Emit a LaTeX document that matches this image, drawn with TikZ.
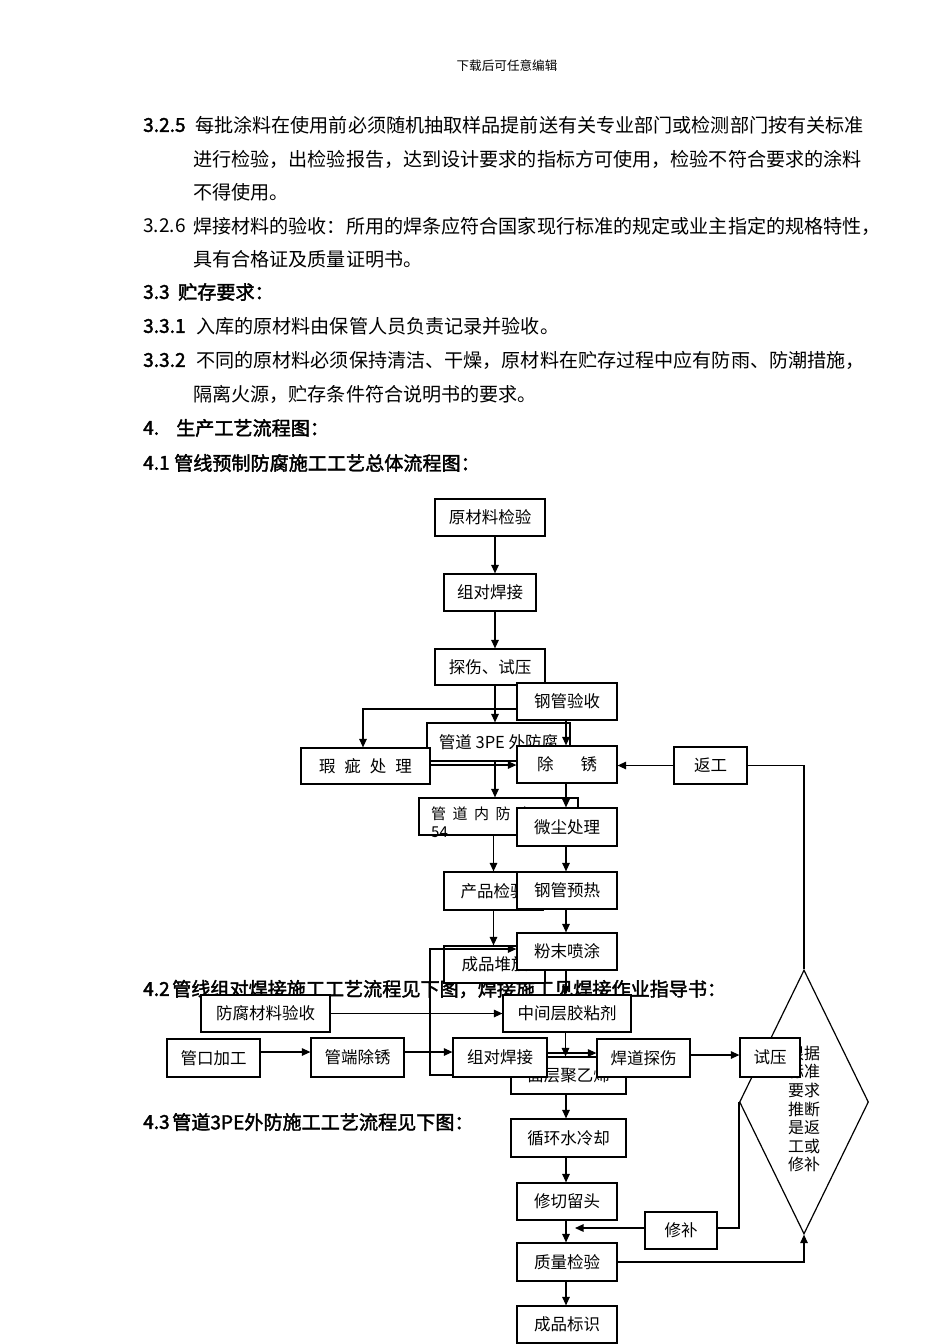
\documentclass[tikz,border=0pt]{standalone}
\usepackage{fontspec}
\setmainfont{Noto Sans CJK SC}
\newfontfamily\bfnt[FakeBold=2]{Noto Sans CJK SC}
\usetikzlibrary{arrows.meta,shapes.geometric}
\tikzset{
 box/.style={draw, line width=1.2pt, fill=white, inner sep=0pt, font=\fontsize{16.5}{19}\selectfont},
 arr/.style={line width=1.2pt, -{Triangle[length=8.5pt,width=7.5pt]}},
 ln/.style={line width=1.2pt},
 body/.style={anchor=west, inner sep=0pt, font=\fontsize{19.1}{22}\selectfont},
 head/.style={anchor=west, inner sep=0pt, font=\bfnt\fontsize{19.1}{22}\selectfont},
}
\begin{document}
\begin{tikzpicture}[x=1pt,y=-1pt]
\fill[white] (0,0) rectangle (950,1344);
\useasboundingbox (0,0) rectangle (950,1344);

% ---- page text ----
\node[inner sep=0pt, font=\fontsize{12.6}{14}\selectfont] (hdr) at (507,66) {下载后可任意编辑};
\node[head] (t1n) at (143,125) {3.2.5};
\node[body] (t1) at (195,125) {每批涂料在使用前必须随机抽取样品提前送有关专业部门或检测部门按有关标准};
\node[body] (t2) at (193,159) {进行检验，出检验报告，达到设计要求的指标方可使用，检验不符合要求的涂料};
\node[body] (t3) at (193,192) {不得使用。};
\node[body] (t4n) at (143,226) {3.2.6};
\node[body] (t4) at (193,226) {焊接材料的验收：所用的焊条应符合国家现行标准的规定或业主指定的规格特性，};
\node[body] (t5) at (193,259) {具有合格证及质量证明书。};
\node[head] (t6n) at (143,292) {3.3};
\node[head] (t6) at (178,292) {贮存要求：};
\node[head] (t7n) at (143,326) {3.3.1};
\node[body] (t7) at (196,326) {入库的原材料由保管人员负责记录并验收。};
\node[head] (t8n) at (143,360) {3.3.2};
\node[body] (t8) at (196,360) {不同的原材料必须保持清洁、干燥，原材料在贮存过程中应有防雨、防潮措施，};
\node[body] (t9) at (193,394) {隔离火源，贮存条件符合说明书的要求。};
\node[head] (t10n) at (143,428) {4.};
\node[head] (t10) at (176,428) {生产工艺流程图：};
\node[head] (t11n) at (143,463) {4.1};
\node[head] (t11) at (174,463) {管线预制防腐施工工艺总体流程图：};
\node[head] (t12n) at (143,989) {4.2};
\node[head] (t12) at (172,989) {管线组对焊接施工工艺流程见下图，焊接施工见焊接作业指导书：};
\node[head] (t13n) at (143,1122) {4.3};
\node[head] (t13) at (172,1122) {管道3PE外防施工工艺流程见下图：};

% ---- boxes ----
\node[box, minimum width=110pt, minimum height=37pt] (ycl) at (490,517.5) {原材料检验};
\node[box, minimum width=92pt, minimum height=37pt] (zd1) at (490,592.5) {组对焊接};
\node[box, minimum width=110pt, minimum height=36pt] (ts) at (490,667) {探伤、试压};
\node[box, minimum width=100pt, minimum height=37pt] (gy) at (567,701.5) {钢管验收};
\node[box, minimum width=143pt, minimum height=38pt] (pe) at (498.5,742) {管道 3PE 外防腐};
\node[box, minimum width=129pt, minimum height=36pt] (xc) at (365.5,766) {瑕\hspace{9pt}疵\hspace{9pt}处\hspace{9pt}理};
\node[box, minimum width=100pt, minimum height=37pt] (cx) at (567,764.5) {除\hspace{27pt}锈};
\node[box, minimum width=159pt, minimum height=37pt] (nf) at (498.5,816.5) {};
\node[anchor=north west, align=left, inner sep=0pt, font=\fontsize{15}{18}\selectfont] (nft) at (431,807) {管\hspace{6.5pt}道\hspace{6.5pt}内\hspace{6.5pt}防\hspace{6.5pt}腐\\54};
\node[box, minimum width=100pt, minimum height=38pt] (wc) at (567,827) {微尘处理};
\node[box, minimum width=99pt, minimum height=38pt] (cj) at (493.5,891) {产品检验};
\node[box, minimum width=100pt, minimum height=37pt] (yr) at (567,890.5) {钢管预热};
\node[box, minimum width=101pt, minimum height=37pt] (dp) at (494.5,964.5) {成品堆放};
\node[box, minimum width=100pt, minimum height=37pt] (fm) at (567,951.5) {粉末喷涂};
\node[box, minimum width=129pt, minimum height=37pt] (fcl) at (265.5,1013.5) {防腐材料验收};
\node[box, minimum width=128pt, minimum height=37pt] (zj) at (567,1013.5) {中间层胶粘剂};
\node[box, minimum width=93pt, minimum height=38pt] (gk) at (213.5,1058) {管口加工};
\node[box, minimum width=93pt, minimum height=39pt] (gd) at (357.5,1057.5) {管端除锈};
\node[box, minimum width=115pt, minimum height=37pt] (mc) at (568.5,1075.5) {面层聚乙烯};
\node[box, minimum width=94pt, minimum height=39pt] (zd2) at (500,1057.5) {组对焊接};
\node[box, minimum width=93pt, minimum height=38pt] (hd) at (643.5,1058) {焊道探伤};
\node[diamond, draw, line width=1.2pt, fill=white, inner sep=0pt, minimum width=129pt, minimum height=264pt] (dia) at (804,1102) {};
\node[align=center, inner sep=0pt, font=\fontsize{16}{18.6}\selectfont] (diat) at (804,1109) {根据\\标准\\要求\\推断\\是返\\工或\\修补};
\node[box, minimum width=60pt, minimum height=39pt] (sy) at (770,1057.5) {试压};
\node[box, minimum width=73pt, minimum height=37pt] (fg) at (710.5,765.5) {返工};
\node[box, minimum width=115pt, minimum height=38pt] (xl) at (568.5,1138) {循环水冷却};
\node[box, minimum width=100pt, minimum height=37pt] (xq) at (567,1201.5) {修切留头};
\node[box, minimum width=100pt, minimum height=38pt] (zl) at (567,1262) {质量检验};
\node[box, minimum width=100pt, minimum height=37pt] (bs) at (567,1324.5) {成品标识};
\node[box, minimum width=72pt, minimum height=37pt] (xb) at (681,1230.5) {修补};

% ---- connectors ----
\coordinate (lp) at (430,1075);
\coordinate (xbend) at (575,1228);
\draw[arr] ([xshift=5pt]ycl.south) -- ([xshift=5pt]zd1.north);
\draw[arr] ([xshift=5pt]zd1.south) -- ([xshift=5pt]ts.north);
\draw[arr] ([xshift=5pt]ts.south) -- ([xshift=-3.5pt]pe.north);
\draw[arr] ([yshift=-7.5pt]gy.west) -| ([xshift=-2.5pt]xc.north);
\draw[arr] ([xshift=-1pt]gy.south) -- ([xshift=-1pt]cx.north);
\draw[arr] ([yshift=1pt]xc.east) -- ([yshift=1pt]xc.east -| cx.west);
\draw[arr] (fg.west) -- (fg.west -| cx.east);
\draw[ln] (fg.east) -| (dia.north);
\draw[arr] ([xshift=-3.5pt]pe.south) -- ([xshift=-3.5pt]nf.north);
\draw[arr] ([xshift=-1pt]cx.south) -- ([xshift=-1pt]wc.north);
\draw[arr] (cj.north |- nf.south) -- (cj.north);
\draw[arr] ([xshift=-1pt]wc.south) -- ([xshift=-1pt]yr.north);
\draw[arr] (cj.south) -- (cj.south |- dp.north);
\draw[arr] ([xshift=-1pt]yr.south) -- ([xshift=-1pt]fm.north);
\draw[arr] ([xshift=-1pt]fm.south) -- ([xshift=-1pt]zj.north);
\draw[arr] (fcl.east) -- (zj.west);
\draw[arr] ([yshift=6pt]gk.east) -- ([yshift=6pt]gk.east -| gd.west);
\draw[arr] ([yshift=5.5pt]gd.east) -- ([yshift=5.5pt]gd.east -| zd2.west);
\draw[arr] ([yshift=4.5pt]zd2.east) -- ([yshift=4.5pt]zd2.east -| hd.west);
\draw[arr] ([xshift=-1.5pt]zj.south) -- ([xshift=-1.5pt]zj.south |- mc.north);
\draw[arr] ([yshift=3pt]hd.east) -- ([yshift=3pt]hd.east -| sy.west);
\draw[arr] ([yshift=-17.5pt]zd2.west) -- (lp) |- ([yshift=2.5pt]fm.west);
\draw[arr] ([xshift=-2.5pt]mc.south) -- ([xshift=-2.5pt]xl.north);
\draw[arr] ([xshift=-2.5pt]xl.south) -- ([xshift=-1pt]xq.north);
\draw[arr] ([xshift=-1pt]xq.south) -- ([xshift=-1pt]zl.north);
\draw[arr] ([xshift=-1pt]zl.south) -- ([xshift=-1pt]bs.north);
\draw[ln] (dia.west) |- ([yshift=2.5pt]xb.east);
\draw[arr] ([yshift=2.5pt]xb.west) -- (xbend);
\draw[arr] (zl.east) -| (dia.south);
\end{tikzpicture}
\end{document}
